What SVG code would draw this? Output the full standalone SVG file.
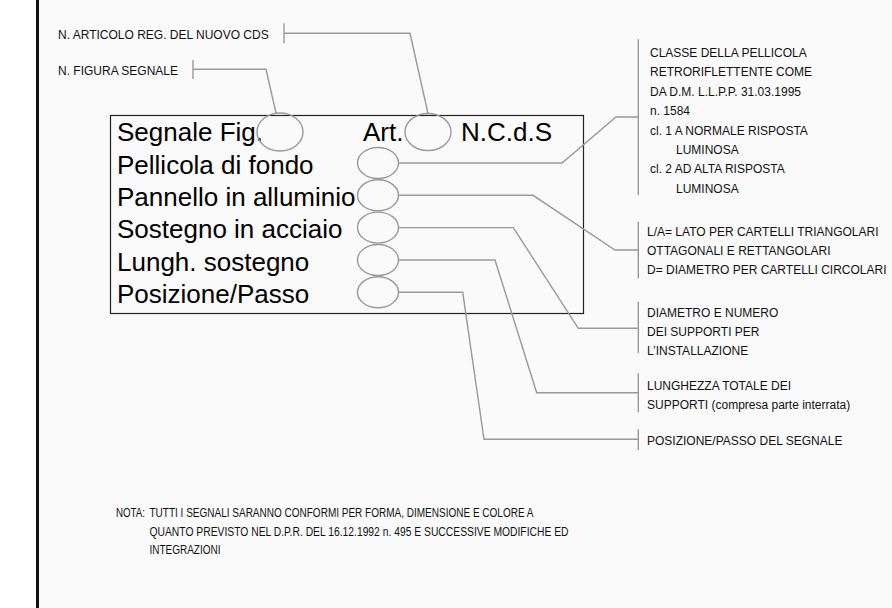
<svg xmlns="http://www.w3.org/2000/svg" width="892" height="608" viewBox="0 0 892 608">
<style>
.big{font-family:"Liberation Sans",Arial,sans-serif;font-size:26px;fill:#000}
.sm{font-family:"Liberation Sans",Arial,sans-serif;font-size:12px;fill:#111}
.nt{font-family:"Liberation Sans",Arial,sans-serif;font-size:12px;fill:#111}
.ln{fill:none;stroke:#999;stroke-width:1.4}
.el{fill:none;stroke:#999;stroke-width:1.4}
</style>
<rect x="0" y="0" width="892" height="608" fill="#ffffff"/>
<rect x="39" y="0" width="853" height="608" fill="#fafafa"/>
<rect x="36" y="0" width="3" height="608" fill="#111"/>

<g id="box">
<rect x="110.5" y="115.5" width="473" height="198" fill="none" stroke="#222" stroke-width="1.2"/>
</g>

<g id="row-segnale">
<text class="big" x="117" y="141">Segnale Fig.</text>
<ellipse class="el" cx="280" cy="132" rx="23" ry="19"/>
<text class="big" x="363" y="141">Art.</text>
<ellipse class="el" cx="428" cy="132" rx="23" ry="18.5"/>
<text class="big" x="461" y="141">N.C.d.S</text>
</g>
<g id="row-pellicola">
<text class="big" x="117" y="173.5">Pellicola di fondo</text>
<ellipse class="el" cx="378" cy="163" rx="20.5" ry="15.5"/>
</g>
<g id="row-pannello">
<text class="big" x="117" y="205.8">Pannello in alluminio</text>
<ellipse class="el" cx="378" cy="195.3" rx="20.5" ry="15.5"/>
</g>
<g id="row-sostegno">
<text class="big" x="117" y="238">Sostegno in acciaio</text>
<ellipse class="el" cx="378" cy="227.6" rx="20.5" ry="15.5"/>
</g>
<g id="row-lungh">
<text class="big" x="117" y="270.5">Lungh. sostegno</text>
<ellipse class="el" cx="378" cy="260" rx="20.5" ry="15.5"/>
</g>
<g id="row-posizione">
<text class="big" x="117" y="302.7">Posizione/Passo</text>
<ellipse class="el" cx="378" cy="292.3" rx="20.5" ry="15.5"/>
</g>

<g id="label-articolo">
<text class="sm" x="58" y="38.5">N. ARTICOLO REG. DEL NUOVO CDS</text>
</g>
<g id="label-figura">
<text class="sm" x="58" y="74.5">N. FIGURA SEGNALE</text>
</g>
<g id="note-classe">
<text class="sm" x="650" y="57">CLASSE DELLA PELLICOLA</text>
<text class="sm" x="650" y="76.4">RETRORIFLETTENTE COME</text>
<text class="sm" x="650" y="95.8">DA D.M. L.L.P.P. 31.03.1995</text>
<text class="sm" x="650" y="115.2">n. 1584</text>
<text class="sm" x="650" y="134.6">cl. 1 A NORMALE RISPOSTA</text>
<text class="sm" x="676" y="154">LUMINOSA</text>
<text class="sm" x="650" y="173.4">cl. 2 AD ALTA RISPOSTA</text>
<text class="sm" x="676" y="192.8">LUMINOSA</text>
</g>
<g id="note-lato">
<text class="sm" x="647" y="235.5">L/A= LATO PER CARTELLI TRIANGOLARI</text>
<text class="sm" x="647" y="254.5">OTTAGONALI E RETTANGOLARI</text>
<text class="sm" x="647" y="273.5">D= DIAMETRO PER CARTELLI CIRCOLARI</text>
</g>
<g id="note-diametro">
<text class="sm" x="647" y="316.5">DIAMETRO E NUMERO</text>
<text class="sm" x="647" y="335.5">DEI SUPPORTI PER</text>
<text class="sm" x="647" y="354.5">L’INSTALLAZIONE</text>
</g>
<g id="note-lunghezza">
<text class="sm" x="647" y="390">LUNGHEZZA TOTALE DEI</text>
<text class="sm" x="647" y="408.5">SUPPORTI (compresa parte interrata)</text>
</g>
<g id="note-posizione">
<text class="sm" x="647" y="444.5">POSIZIONE/PASSO DEL SEGNALE</text>
</g>
<g id="nota">
<text class="nt" x="116" y="517" textLength="29" lengthAdjust="spacingAndGlyphs">NOTA:</text>
<text class="nt" x="149.5" y="517" textLength="384" lengthAdjust="spacingAndGlyphs">TUTTI I SEGNALI SARANNO CONFORMI PER FORMA, DIMENSIONE E COLORE A</text>
<text class="nt" x="149.5" y="535.5" textLength="419" lengthAdjust="spacingAndGlyphs">QUANTO PREVISTO NEL D.P.R. DEL 16.12.1992 n. 495 E SUCCESSIVE MODIFICHE ED</text>
<text class="nt" x="149.5" y="554" textLength="71" lengthAdjust="spacingAndGlyphs">INTEGRAZIONI</text>
</g>

<g id="connectors">
<path class="ln" d="M193 60V79M193 69.3H266L276 113"/>
<path class="ln" d="M284 23.3V43.3M284 33.3H410L428 113.5"/>
<path class="ln" d="M398.5 163H562L616 117H638.3M638.3 39.3V195"/>
<path class="ln" d="M398.5 195.3H533L615 250H638.3M638.3 221.7V278.3"/>
<path class="ln" d="M398.5 227.6H513.3L578.3 328.3H638.3M638.3 301.7V353.3"/>
<path class="ln" d="M398.5 260H495L536.7 392.7H638.3M638.3 373.3V412.3"/>
<path class="ln" d="M398.5 292.3H462.7L484 439.3H638.3M638.3 429.3V450"/>
</g>
</svg>
